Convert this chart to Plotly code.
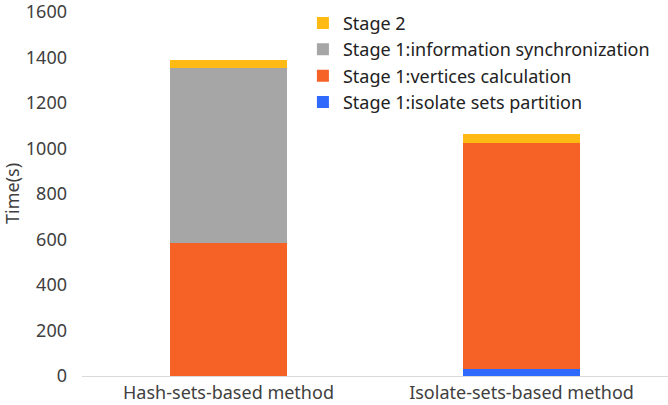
import plotly.graph_objects as go

categories = ["Hash-sets-based method", "Isolate-sets-based method"]
series_names = [
    "Stage 1:isolate sets partition",
    "Stage 1:vertices calculation",
    "Stage 1:information synchronization",
    "Stage 2",
]
isolate_partition = [0, 30]
vertices_calc = [584, 995]
info_sync = [769, 0]
stage2 = [38, 38]
y_ticks = [0, 200, 400, 600, 800, 1000, 1200, 1400, 1600]

colors = ["#306AFD", "#F66126", "#A6A6A6", "#FFBA14"]
values = [isolate_partition, vertices_calc, info_sync, stage2]

font_family = "Noto Sans, Liberation Sans, Arial, sans-serif"

fig = go.Figure()
for name, vals, col in zip(series_names, values, colors):
    fig.add_trace(go.Bar(
        x=categories, y=vals, name=name,
        marker=dict(color=col, line=dict(width=0)),
    ))

fig.add_annotation(
    text="Time(s)", textangle=-90,
    xref="paper", yref="paper", x=0, y=0.5,
    xanchor="center", yanchor="middle", xshift=-70, showarrow=False,
    font=dict(size=18, color="#404040"),
)

fig.update_layout(
    width=668, height=405,
    barmode="stack", bargap=0.6,
    plot_bgcolor="white", paper_bgcolor="white",
    margin=dict(l=82, r=0, t=12, b=29),
    font=dict(family=font_family, size=18, color="#404040"),
    legend=dict(
        traceorder="reversed",
        x=0.377, y=1.02, xanchor="left", yanchor="top",
        bgcolor="rgba(0,0,0,0)",
        font=dict(size=18, color="#222222"),
        tracegroupgap=0,
    ),
    xaxis=dict(
        automargin=False,
        showline=True, linecolor="#D9D9D9", linewidth=1,
        ticks="", showgrid=False,
        ticklabelstandoff=0,
        tickfont=dict(size=18, color="#404040"),
    ),
    yaxis=dict(
        automargin=False,
        range=[0, 1600], tickvals=y_ticks,
        showgrid=False, zeroline=False, showline=False,
        ticks="", ticklabelstandoff=14, ticklabeloverflow="allow",
        tickfont=dict(size=18, color="#404040"),
    ),
)

fig.write_html(
    "out.html",
    config={"displayModeBar": False},
    post_script="document.body.style.margin='0';document.body.style.padding='0';",
)
